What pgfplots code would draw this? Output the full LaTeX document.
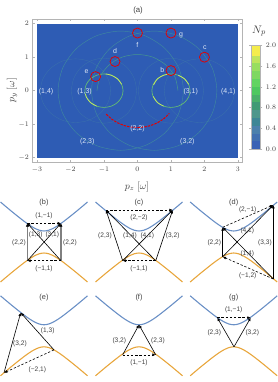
\documentclass[border=0pt]{standalone}
\usepackage{fontspec}
\usepackage{pgfplots}
\pgfplotsset{compat=1.18}
\usetikzlibrary{arrows.meta}
\setmainfont{Liberation Sans}
\definecolor{bg}{HTML}{2E5CB4}
\definecolor{frameg}{HTML}{B4B4B4}
\definecolor{ringa}{HTML}{3F8A9E}
\definecolor{ringb}{HTML}{46968F}
\definecolor{ringc}{HTML}{3A70AC}
\definecolor{bright}{HTML}{66C070}
\definecolor{brighter}{HTML}{C4E862}
\definecolor{lab}{HTML}{DCE6F6}
\definecolor{bandb}{HTML}{6A90C6}
\definecolor{bando}{HTML}{E8A63C}
\definecolor{txt}{HTML}{404040}
\newcommand{\bands}{%
\addplot[bandb,line width=1.1pt,smooth] coordinates {(-43.5,40)(-40,37)(-35,32.8)(-30,28.7)(-25,24.7)(-20,20.8)(-15,17.2)(-10,14.1)(-5,11.86)(0,11)(5,11.86)(10,14.1)(15,17.2)(20,20.8)(25,24.7)(30,28.7)(35,32.8)(40,37)(43.5,40)};
\addplot[bando,line width=1.1pt,smooth] coordinates {(-43.5,-40)(-40,-37)(-35,-32.8)(-30,-28.7)(-25,-24.7)(-20,-20.8)(-15,-17.2)(-10,-14.1)(-5,-11.86)(0,-11)(5,-11.86)(10,-14.1)(15,-17.2)(20,-20.8)(25,-24.7)(30,-28.7)(35,-32.8)(40,-37)(43.5,-40)};
}
\pgfplotsset{
 panel/.style={hide axis,scale only axis,width=87bp,height=82bp,xmin=-43.5,xmax=43.5,ymin=-41,ymax=41,clip=false,anchor=center},
 arr/.style={black,line width=0.6pt,-{Latex[length=3.4bp,width=3bp]}},
 thk/.style={#1,line width=1.1pt,-{Latex[length=3.4bp,width=3.2bp,black]}},
 dsh/.style={black,line width=0.6pt,dash pattern=on 2.4pt off 1.8pt,-{Latex[length=3.4bp,width=3bp]}},
 every axis plot/.append style={mark=none},
}
\tikzset{pl/.style={font=\fontsize{6.6}{7}\selectfont,text=txt,inner sep=0.5pt},
 pt/.style={font=\fontsize{7.4}{8}\selectfont,text=txt,inner sep=0pt},
 ml/.style={font=\fontsize{7}{8}\selectfont,text=lab,inner sep=0pt}}
\begin{document}
\begin{tikzpicture}
\path[use as bounding box] (0,0) rectangle (278bp,382bp);
\begin{axis}[at={(32.3bp,219.3bp)},anchor=south west,scale only axis,width=210bp,height=143.7bp,
 xmin=-3.14,xmax=3.13,ymin=-2.15,ymax=2.14,
 axis line style={frameg,line width=0.9pt},
 tick style={frameg,line width=0.5pt},tick align=inside,major tick length=2.5bp,
 xtick={-3,-2,-1,0,1,2,3},ytick={-2,-1,0,1,2},
 tick label style={font=\fontsize{7.4}{8}\selectfont,text=txt},
 xticklabel shift=1bp,yticklabel shift=0bp,
 clip=true]
\addplot[draw=none,fill=bg] coordinates {(-3,-2)(3,-2)(3,2)(-3,2)} -- cycle;
\addplot[ringc,line width=0.35pt,smooth cycle] coordinates {(2.9,0)(2.82,.36)(2.59,.67)(2.25,.88)(1.85,.95)(1.45,.88)(1.11,.67)(.88,.36)(.8,0)(.88,-.36)(1.11,-.67)(1.45,-.88)(1.85,-.95)(2.25,-.88)(2.59,-.67)(2.82,-.36)};
\addplot[ringc,line width=0.35pt,smooth cycle] coordinates {(-2.9,0)(-2.82,.36)(-2.59,.67)(-2.25,.88)(-1.85,.95)(-1.45,.88)(-1.11,.67)(-.88,.36)(-.8,0)(-.88,-.36)(-1.11,-.67)(-1.45,-.88)(-1.85,-.95)(-2.25,-.88)(-2.59,-.67)(-2.82,-.36)};
\addplot[ringc,line width=0.35pt,smooth cycle] coordinates {(1.97,0)(1.9,.37)(1.69,.69)(1.37,.9)(1,.97)(.63,.9)(.31,.69)(.1,.37)(.03,0)(.1,-.37)(.31,-.69)(.63,-.9)(1,-.97)(1.37,-.9)(1.69,-.69)(1.9,-.37)};
\addplot[ringc,line width=0.35pt,smooth cycle] coordinates {(-1.97,0)(-1.9,.37)(-1.69,.69)(-1.37,.9)(-1,.97)(-.63,.9)(-.31,.69)(-.1,.37)(-.03,0)(-.1,-.37)(-.31,-.69)(-.63,-.9)(-1,-.97)(-1.37,-.9)(-1.69,-.69)(-1.9,-.37)};
\addplot[ringa,line width=0.42pt,smooth cycle] coordinates {(2.37,0)(2.23,.68)(1.82,1.26)(1.22,1.64)(.5,1.78)(-.22,1.64)(-.82,1.26)(-1.23,.68)(-1.37,0)(-1.23,-.68)(-.82,-1.26)(-.22,-1.64)(.5,-1.78)(1.22,-1.64)(1.82,-1.26)(2.23,-.68)};
\addplot[ringa,line width=0.42pt,smooth cycle] coordinates {(-2.37,0)(-2.23,.68)(-1.82,1.26)(-1.22,1.64)(-.5,1.78)(.22,1.64)(.82,1.26)(1.23,.68)(1.37,0)(1.23,-.68)(.82,-1.26)(.22,-1.64)(-.5,-1.78)(-1.22,-1.64)(-1.82,-1.26)(-2.23,-.68)};
\addplot[ringb,line width=0.5pt,smooth] coordinates {(-1.21,0)(-1.12,.41)(-.855,.76)(-.463,1.0)(0,1.08)(.463,1.0)(.855,.76)(1.12,.41)(1.21,0)};
% bright rings
\addplot[bright,line width=0.65pt,smooth cycle] coordinates {(1.57,0)(1.527,.19)(1.403,.354)(1.218,.462)(1,.5)(.782,.462)(.597,.354)(.473,.19)(.43,0)(.473,-.19)(.597,-.354)(.782,-.462)(1,-.5)(1.218,-.462)(1.403,-.354)(1.527,-.19)};
\addplot[bright,line width=0.65pt,smooth cycle] coordinates {(-1.57,0)(-1.527,.19)(-1.403,.354)(-1.218,.462)(-1,.5)(-.782,.462)(-.597,.354)(-.473,.19)(-.43,0)(-.473,-.19)(-.597,-.354)(-.782,-.462)(-1,-.5)(-1.218,-.462)(-1.403,-.354)(-1.527,-.19)};
\addplot[brighter,line width=0.75pt,smooth] coordinates {(-1.55,-.1)(-1.527,-.19)(-1.403,-.354)(-1.218,-.462)};
\addplot[brighter,line width=0.75pt,smooth] coordinates {(-.95,.5)(-.782,.462)(-.597,.354)(-.473,.19)};
\addplot[brighter,line width=0.75pt,smooth] coordinates {(.48,.17)(.597,.354)(.782,.462)(.95,.5)};
\addplot[brighter,line width=0.75pt,smooth] coordinates {(1.218,.462)(1.403,.354)(1.527,.19)};
\addplot[brighter,line width=0.75pt,smooth] coordinates {(.47,-.17)(.597,-.354)(.782,-.462)};
% red dashed
\addplot[red!90!black,line width=1pt,dash pattern=on 2.4pt off 1.1pt,smooth] coordinates {(-.93,-.7)(-.8,-.825)(-.6,-.955)(-.4,-1.038)(-.2,-1.085)(0,-1.1)(.2,-1.085)(.4,-1.038)(.6,-.955)(.8,-.825)(.95,-.68)};
% red circles
\addplot[only marks,mark=o,mark size=5bp,mark options={draw=red!90!black,line width=0.75pt,fill=none}] coordinates {(0,1.72)(1,1.72)(2,1)(1,.6)(-.67,.87)(-1.25,.42)};
\node[ml] at (axis cs:0,1.36) {f};
\node[ml] at (axis cs:1.3,1.64) {g};
\node[ml] at (axis cs:2.01,1.28) {c};
\node[ml] at (axis cs:.74,.61) {b};
\node[ml] at (axis cs:-.67,1.19) {d};
\node[ml] at (axis cs:-1.52,.57) {e};
\node[ml] at (axis cs:-2.73,-.03) {(1,4)};
\node[ml] at (axis cs:-1.58,-.03) {(1,3)};
\node[ml] at (axis cs:1.59,-.03) {(3,1)};
\node[ml] at (axis cs:2.71,-.03) {(4,1)};
\node[ml] at (axis cs:0,-1.14) {(2,2)};
\node[ml] at (axis cs:-1.5,-1.52) {(2,3)};
\node[ml] at (axis cs:1.49,-1.52) {(3,2)};
\end{axis}
\node[font=\fontsize{7.8}{8}\selectfont,text=txt] at (138bp,372bp) {(a)};
\node[font=\fontsize{10}{11}\selectfont,text=txt] at (137bp,195.3bp) {$p_z\ [\omega]$};
\node[font=\fontsize{10}{11}\selectfont,text=txt,rotate=90] at (12bp,291.5bp) {$p_y\ [\omega]$};
\node[font=\fontsize{11}{12}\selectfont,text=txt] at (259bp,351bp) {$N_p$};
% colour bar
\begin{axis}[at={(251bp,232.7bp)},anchor=south west,scale only axis,width=9.7bp,height=104.3bp,
 xmin=0,xmax=1,ymin=0,ymax=2.002,xtick=\empty,ytick={0,.4,.8,1.2,1.6,2},
 yticklabel pos=right,axis line style={frameg,line width=0.5pt},tick style={frameg,line width=0.4pt},
 tick align=outside,major tick length=1.6bp,
 yticklabel style={font=\fontsize{6.8}{7}\selectfont,text=txt,/pgf/number format/fixed,/pgf/number format/fixed zerofill,/pgf/number format/precision=1},
 yticklabel shift=0bp,axis on top]
\addplot[draw=none,fill={rgb,255:red,58;green,98;blue,181}] coordinates {(0,0)(1,0)(1,.15)(0,.15)} -- cycle;
\addplot[draw=none,fill={rgb,255:red,66;green,112;blue,176}] coordinates {(0,.15)(1,.15)(1,.3)(0,.3)} -- cycle;
\addplot[draw=none,fill={rgb,255:red,76;green,128;blue,172}] coordinates {(0,.3)(1,.3)(1,.45)(0,.45)} -- cycle;
\addplot[draw=none,fill={rgb,255:red,62;green,134;blue,150}] coordinates {(0,.45)(1,.45)(1,.6)(0,.6)} -- cycle;
\addplot[draw=none,fill={rgb,255:red,78;green,150;blue,140}] coordinates {(0,.6)(1,.6)(1,.75)(0,.75)} -- cycle;
\addplot[draw=none,fill={rgb,255:red,64;green,154;blue,116}] coordinates {(0,.75)(1,.75)(1,.9)(0,.9)} -- cycle;
\addplot[draw=none,fill={rgb,255:red,74;green,176;blue,106}] coordinates {(0,.9)(1,.9)(1,1.05)(0,1.05)} -- cycle;
\addplot[draw=none,fill={rgb,255:red,78;green,200;blue,96}] coordinates {(0,1.05)(1,1.05)(1,1.2)(0,1.2)} -- cycle;
\addplot[draw=none,fill={rgb,255:red,98;green,212;blue,98}] coordinates {(0,1.2)(1,1.2)(1,1.35)(0,1.35)} -- cycle;
\addplot[draw=none,fill={rgb,255:red,126;green,216;blue,96}] coordinates {(0,1.35)(1,1.35)(1,1.5)(0,1.5)} -- cycle;
\addplot[draw=none,fill={rgb,255:red,152;green,222;blue,96}] coordinates {(0,1.5)(1,1.5)(1,1.65)(0,1.65)} -- cycle;
\addplot[draw=none,fill={rgb,255:red,190;green,228;blue,92}] coordinates {(0,1.65)(1,1.65)(1,1.8)(0,1.8)} -- cycle;
\addplot[draw=none,fill={rgb,255:red,244;green,236;blue,76}] coordinates {(0,1.8)(1,1.8)(1,2.002)(0,2.002)} -- cycle;
\end{axis}
% (b)
\begin{axis}[panel,at={(44bp,140bp)}]
\bands
\addplot[thk=gray] coordinates {(-16.7,-18.7)(-16.7,18.7)};
\addplot[thk=gray] coordinates {(17,-18.7)(17,18.7)};
\addplot[arr] coordinates {(-16.7,-18.7)(17,18.7)};
\addplot[arr] coordinates {(17,-18.7)(-16.7,18.7)};
\addplot[dsh] coordinates {(-16.7,18.7)(17,18.7)};
\addplot[dsh] coordinates {(17,-18.7)(-16.7,-18.7)};
\node[pt] at (axis cs:0,39.3) {(b)};
\node[pl] at (axis cs:0,26) {(1,−1)};
\node[pl] at (axis cs:-25,-1) {(2,2)};
\node[pl] at (axis cs:26,-1) {(2,2)};
\node[pl] at (axis cs:-8.3,7.7) {(1,3)};
\node[pl] at (axis cs:8.3,7.7) {(3,1)};
\node[pl] at (axis cs:0,-26.3) {(−1,1)};
\end{axis}
% (c)
\begin{axis}[panel,at={(139bp,140bp)}]
\bands
\addplot[arr] coordinates {(-16.3,-18.7)(33.7,32)};
\addplot[arr] coordinates {(16.7,-18.7)(-33,32)};
\addplot[arr] coordinates {(-16.3,-18.7)(-33,32)};
\addplot[arr] coordinates {(16.7,-18.7)(33.7,32)};
\addplot[dsh] coordinates {(-33,32)(33.7,32)};
\addplot[dsh] coordinates {(16.7,-18.7)(-16.3,-18.7)};
\node[pt] at (axis cs:0,39.3) {(c)};
\node[pl] at (axis cs:0,24.3) {(2,−2)};
\node[pl] at (axis cs:-34,6) {(2,3)};
\node[pl] at (axis cs:33.7,6) {(3,2)};
\node[pl] at (axis cs:-9,6) {(1,4)};
\node[pl] at (axis cs:8.3,6) {(4,1)};
\node[pl] at (axis cs:0,-26.3) {(−1,1)};
\end{axis}
% (d)
\begin{axis}[panel,at={(233.7bp,140bp)}]
\bands
\addplot[thk=black] coordinates {(-11,-14.7)(-11,14.7)};
\addplot[thk=black] coordinates {(39.6,-37)(39.6,37)};
\addplot[arr] coordinates {(-11,-14.7)(39.6,37)};
\addplot[arr] coordinates {(39.6,-37)(-11,14.7)};
\addplot[dsh] coordinates {(-11,14.7)(39.6,37)};
\addplot[dsh] coordinates {(39.6,-37)(-11,-14.7)};
\node[pt] at (axis cs:0,39.3) {(d)};
\node[pl] at (axis cs:14,32.7) {(2,−1)};
\node[pl] at (axis cs:13.6,11) {(4,1)};
\node[pl] at (axis cs:13.6,-12) {(1,4)};
\node[pl] at (axis cs:31.3,-0.7) {(3,3)};
\node[pl] at (axis cs:-19.4,-1) {(2,2)};
\node[pl] at (axis cs:14,-34) {(−1,2)};
\end{axis}
% (e)
\begin{axis}[panel,at={(44bp,46.2bp)}]
\bands
\addplot[arr] coordinates {(-40,-37)(-23.3,23.1)};
\addplot[arr] coordinates {(10,-14.1)(-23.3,23.1)};
\addplot[dsh] coordinates {(10,-14.1)(-40,-37)};
\node[pt] at (axis cs:0,38.5) {(e)};
\node[pl] at (axis cs:3.7,4.8) {(1,3)};
\node[pl] at (axis cs:-24,-8.2) {(3,2)};
\node[pl] at (axis cs:-6.7,-34.2) {(−2,1)};
\end{axis}
% (f)
\begin{axis}[panel,at={(139bp,46.2bp)}]
\bands
\addplot[arr] coordinates {(-16.3,-19)(0,11)};
\addplot[arr] coordinates {(16.7,-19)(0,11)};
\addplot[dsh] coordinates {(-16.3,-19)(16.7,-19)};
\node[pt] at (axis cs:0,38.5) {(f)};
\node[pl] at (axis cs:-19.7,-4.9) {(3,2)};
\node[pl] at (axis cs:19,-4.9) {(2,3)};
\node[pl] at (axis cs:0,-26.8) {(1,−1)};
\end{axis}
% (g)
\begin{axis}[panel,at={(233.7bp,46.2bp)}]
\bands
\addplot[arr] coordinates {(0.3,-11)(-16.4,18.1)};
\addplot[arr] coordinates {(0.3,-11)(17,18.1)};
\addplot[dsh] coordinates {(-16.4,18.1)(17,18.1)};
\node[pt] at (axis cs:0,38.5) {(g)};
\node[pl] at (axis cs:0,25.8) {(1,−1)};
\node[pl] at (axis cs:-19.4,3.1) {(2,3)};
\node[pl] at (axis cs:18.6,3.1) {(3,2)};
\end{axis}
\end{tikzpicture}
\end{document}
